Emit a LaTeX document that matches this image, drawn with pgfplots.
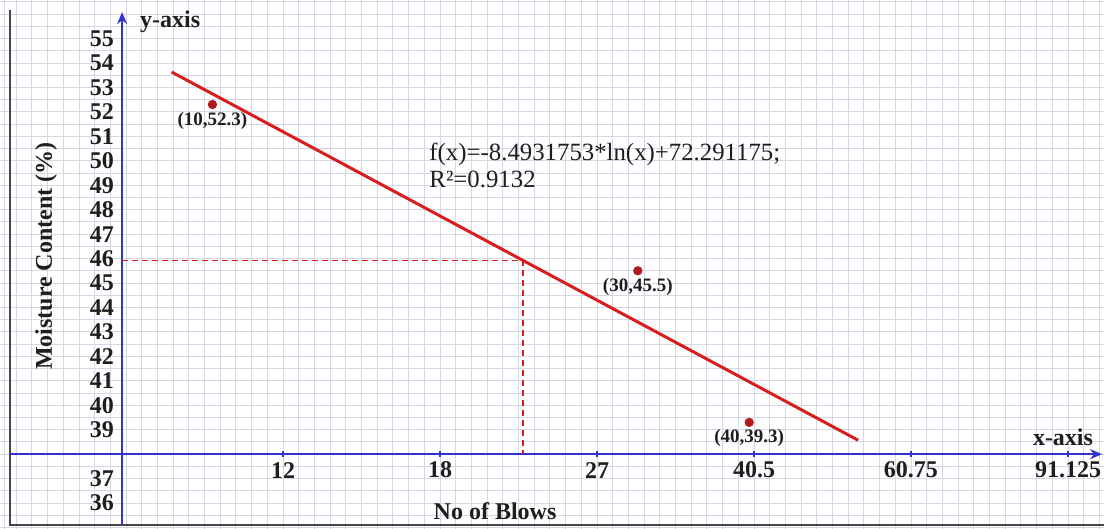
\documentclass[border=0pt]{standalone}
\usepackage{pgfplots}
\pgfplotsset{compat=1.18}
\usetikzlibrary{arrows.meta}
\usepackage{fontspec}
\setmainfont{Liberation Serif}

\definecolor{gridc}{RGB}{214,214,228}
\definecolor{axblue}{RGB}{50,50,205}
\definecolor{fitred}{RGB}{215,30,30}
\definecolor{ptred}{RGB}{180,25,25}
\definecolor{txt}{RGB}{30,30,30}
\definecolor{frame}{RGB}{70,70,70}

% vertical rulings of the log paper: ten per factor of 1.5
\def\xgrid{5.85}
\pgfplotsforeachungrouped \k in {-7,...,62}{%
  \pgfmathparse{8*1.5^(\k/10)}%
  \xdef\xgrid{\xgrid,\pgfmathresult}}

\newcommand\lab{\bfseries\fontsize{12}{12}\selectfont}

\begin{document}
\begin{tikzpicture}
\begin{axis}[
  scale only axis, width=552pt, height=264.5pt,
  xmode=log, xmin=5.778, xmax=100.0, ymin=34.94, ymax=56.575,
  axis line style={draw=none},
  xtick/.expanded=\xgrid,
  ytick={35,35.5,...,56.5},
  xticklabels={}, yticklabels={},
  major tick length=0pt,
  grid=major, major grid style={gridc, line width=0.45pt},
]
% frame
\draw[frame, line width=1pt] (axis cs:5.93,56.17) -- (axis cs:5.93,35.10) -- (axis cs:100,35.10);

% axes with arrows
\draw[axblue, line width=1pt, -{Stealth[length=6pt,width=5pt]}]
  (axis cs:7.92,35.10) -- (axis cs:7.92,56.08);
\draw[axblue, line width=1pt, -{Stealth[length=6pt,width=5pt]}]
  (axis cs:5.93,38) -- (axis cs:99.5,38);
\pgfplotsinvokeforeach{12,18,27,40.5,60.75,91.125}{
  \draw[axblue, line width=0.6pt] (axis cs:#1,37.88) -- (axis cs:#1,38.12);
  \node[txt, font=\lab] at (axis cs:#1,37.35) {#1};
}
\pgfplotsinvokeforeach{36,37,39,40,41,42,43,44,45,46,47,48,49,50,51,52,53,54,55}{
  \node[txt, font=\lab, anchor=east, inner sep=0pt] at (axis cs:7.76,#1) {#1};
}

% axis names
\node[txt, font=\lab, anchor=west] at (axis cs:8.146,55.67) {y-axis};
\node[txt, font=\lab, anchor=east] at (axis cs:98.99,38.70) {x-axis};
\node[txt, font=\lab] at (axis cs:20.75,35.65) {No of Blows};
\node[txt, font=\lab, rotate=90] at (axis cs:6.507,46.10) {Moisture Content (\%)};

% trend line equation
\node[txt, anchor=west, inner sep=0pt, font=\fontsize{12.4}{14}\selectfont]
  at (axis cs:17.5,50.24) {f(x)=-8.4931753*ln(x)+72.291175;};
\node[txt, anchor=west, inner sep=0pt, font=\fontsize{12.4}{14}\selectfont]
  at (axis cs:17.5,49.25) {R²=0.9132};

% logarithmic trend line (straight on the log axis)
\addplot[fitred, line width=1.5pt] coordinates {(9,53.63) (53,38.57)};

% reading at the trend line
\addplot[fitred, line width=0.55pt, dash pattern=on 3pt off 2pt]
  coordinates {(7.92,45.92) (22.3,45.92) (22.3,38)};

% measured points
\addplot[only marks, mark=*, mark size=2.1pt, ptred,
  point meta=explicit symbolic, nodes near coords,
  nodes near coords style={anchor=north, yshift=-2.5pt, inner sep=1pt,
    text=txt, font=\bfseries\fontsize{9.5}{10}\selectfont}]
  table[meta=label] {
x  y    label
10 52.3 (10,52.3)
30 45.5 (30,45.5)
40 39.3 (40,39.3)
};
\end{axis}
\pgfresetboundingbox
\useasboundingbox (current axis.south west) rectangle (current axis.north east);
\end{tikzpicture}
\end{document}
